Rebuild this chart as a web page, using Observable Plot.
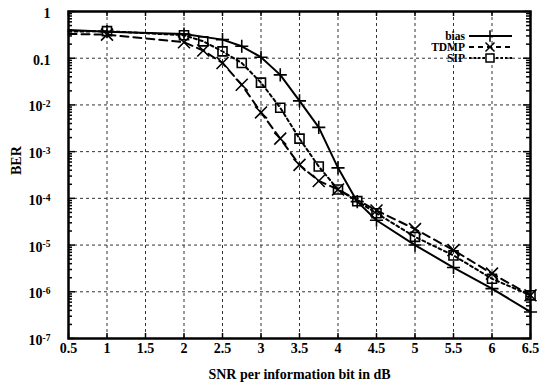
<!DOCTYPE html>
<html><head><meta charset="utf-8">
<script src="https://cdn.jsdelivr.net/npm/d3@7"></script>
<script src="https://cdn.jsdelivr.net/npm/@observablehq/plot@0.6"></script>
<style>body{margin:0;background:#fff} svg{display:block}</style>
</head><body><div id="chart"></div>
<script>
// ---- data ----
const seriesNames = ["bias", "TDMP", "SIP"];
const biasSnr = [0.5, 1, 2, 2.5, 2.75, 3, 3.25, 3.5, 3.75, 4, 4.25, 4.5, 5, 5.5, 6, 6.5];
const biasBer = [0.40, 0.37, 0.33, 0.25, 0.18, 0.105, 0.044, 0.0122, 0.0033, 4.5e-4, 8.5e-5, 3.4e-5, 1.0e-5, 3.3e-6, 1.17e-6, 3.7e-7];
const tdmpSnr = [0.5, 1, 2, 2.25, 2.5, 2.75, 3, 3.25, 3.5, 3.75, 4, 4.5, 5, 5.5, 6, 6.5];
const tdmpBer = [0.33, 0.32, 0.22, 0.146, 0.079, 0.027, 0.0069, 0.0019, 5.2e-4, 2.35e-4, 1.55e-4, 5.5e-5, 2.2e-5, 7.8e-6, 2.45e-6, 8.4e-7];
const sipSnr = [0.5, 1, 2, 2.25, 2.5, 2.75, 3, 3.25, 3.5, 3.75, 4, 4.25, 4.5, 5, 5.5, 6, 6.5];
const sipBer = [0.37, 0.38, 0.31, 0.23, 0.14, 0.079, 0.030, 0.0087, 0.0019, 4.8e-4, 1.55e-4, 8.7e-5, 4.8e-5, 1.5e-5, 6.0e-6, 1.9e-6, 8.4e-7];
const xTicks = [0.5, 1, 1.5, 2, 2.5, 3, 3.5, 4, 4.5, 5, 5.5, 6, 6.5];
const xTickLabels = ["0.5", "1", "1.5", "2", "2.5", "3", "3.5", "4", "4.5", "5", "5.5", "6", "6.5"];
const yTicks = [1, 0.1, 1e-2, 1e-3, 1e-4, 1e-5, 1e-6, 1e-7];
const yTickLabels = ["1", "0.1", "10^-2", "10^-3", "10^-4", "10^-5", "10^-6", "10^-7"];
const xLabel = "SNR per information bit in dB";
const yLabel = "BER";

// ---- layout ----
const W = 540, H = 389, mL = 68, mR = 10, mT = 11, mB = 51;
const pw = W - mL - mR, ph = H - mT - mB;
const font = "'Liberation Serif','Times New Roman',Times,serif";

const mk = (name, xs, ys) => xs.map((x, i) => ({series: name, snr: x, ber: ys[i]}));
const bias = mk("bias", biasSnr, biasBer);
const tdmp = mk("TDMP", tdmpSnr, tdmpBer);
const sip = mk("SIP", sipSnr, sipBer);
const minorY = [];
for (let k = -7; k < 0; k++) for (let m = 2; m <= 9; m++) minorY.push(m * Math.pow(10, k));

const styles = {
  bias: {dash: null, symbol: "plus", r: 4.3},
  TDMP: {dash: "8,5", symbol: "times", r: 5.5},
  SIP: {dash: "3,3", symbol: "square", r: 5.1}
};
const lineMark = (data, name) => Plot.line(data, {x: "snr", y: "ber", stroke: "black", strokeWidth: 2,
  strokeDasharray: styles[name].dash ?? undefined});
const dotMark = (data, name) => Plot.dot(data.filter(d => d.snr >= 1), {x: "snr", y: "ber",
  symbol: styles[name].symbol, r: styles[name].r, stroke: "black", strokeWidth: 1.6, fill: "none"});

const chart = Plot.plot({
  width: W, height: H, marginLeft: mL, marginRight: mR, marginTop: mT, marginBottom: mB,
  style: {fontFamily: font, fontSize: "14px", background: "white", color: "black"},
  x: {domain: [0.5, 6.5]},
  y: {type: "log", domain: [1e-7, 1]},
  marks: [
    Plot.gridX(xTicks.slice(1, -1), {stroke: "#333", strokeOpacity: 1, strokeWidth: 1, strokeDasharray: "3,3"}),
    Plot.gridY(yTicks.slice(1, -1), {stroke: "#333", strokeOpacity: 1, strokeWidth: 1, strokeDasharray: "3,3"}),
    // inward ticks
    Plot.ruleX(xTicks, {insetTop: ph - 5, stroke: "black", strokeWidth: 1.5}),
    Plot.ruleX(xTicks, {insetBottom: ph - 5, stroke: "black", strokeWidth: 1.5}),
    Plot.ruleY(yTicks, {insetRight: pw - 7, stroke: "black", strokeWidth: 1.5}),
    Plot.ruleY(yTicks, {insetLeft: pw - 7, stroke: "black", strokeWidth: 1.5}),
    Plot.ruleY(minorY, {insetRight: pw - 4, stroke: "black", strokeWidth: 1.5}),
    Plot.ruleY(minorY, {insetLeft: pw - 4, stroke: "black", strokeWidth: 1.5}),
    Plot.axisX(xTicks, {tickSize: 0, tickPadding: 5, label: null, fontWeight: "bold",
      tickFormat: d => xTickLabels[xTicks.indexOf(d)]}),
    Plot.axisY(yTicks, {tickSize: 0, tickPadding: 18, label: null, fontWeight: "bold", dy: 2,
      tickFormat: d => yTickLabels[yTicks.indexOf(d)]}),
    Plot.text([xLabel], {frameAnchor: "bottom", dy: 40, fontWeight: "bold", fontSize: 14}),
    Plot.text([yLabel], {frameAnchor: "left", dx: -52, rotate: -90, fontWeight: "bold", fontSize: 14}),
    lineMark(sip, "SIP"), lineMark(tdmp, "TDMP"), lineMark(bias, "bias"),
    dotMark(sip, "SIP"), dotMark(tdmp, "TDMP"), dotMark(bias, "bias"),
    Plot.frame({stroke: "black", strokeWidth: 2.5})
  ]
});
document.getElementById("chart").appendChild(chart);

// superscript exponents on y tick labels
const svg = d3.select(chart);
svg.selectAll('g[aria-label="y-axis tick label"] text').each(function() {
  const t = this.textContent;
  if (t.startsWith("10^")) {
    const sel = d3.select(this);
    sel.text("");
    sel.append("tspan").text("10");
    sel.append("tspan").attr("dy", "-0.45em").attr("font-size", "9.5px").text(t.slice(3));
  }
});

// legend (top right, gnuplot style)
const symGen = {bias: d3.symbolPlus, TDMP: d3.symbolTimes, SIP: d3.symbolSquare};
const symSize = {bias: 45, TDMP: 55, SIP: 64};
const lg = svg.append("g").attr("font-family", font).attr("font-size", 11.5).attr("font-weight", "bold");
seriesNames.forEach((name, i) => {
  const y = 36 + i * 11;
  lg.append("text").attr("x", 465).attr("y", y).attr("text-anchor", "end").attr("dy", "0.35em").text(name);
  const ln = lg.append("line").attr("x1", 469).attr("x2", 512).attr("y1", y).attr("y2", y)
    .attr("stroke", "black").attr("stroke-width", 1.8);
  if (styles[name].dash) ln.attr("stroke-dasharray", name === "TDMP" ? "5,4" : "2.5,2");
  lg.append("path").attr("transform", `translate(490,${y})`).attr("d", d3.symbol(symGen[name], symSize[name])())
    .attr("fill", name === "SIP" ? "white" : "none").attr("stroke", "black").attr("stroke-width", 1.5);
});
</script>
</body></html>
